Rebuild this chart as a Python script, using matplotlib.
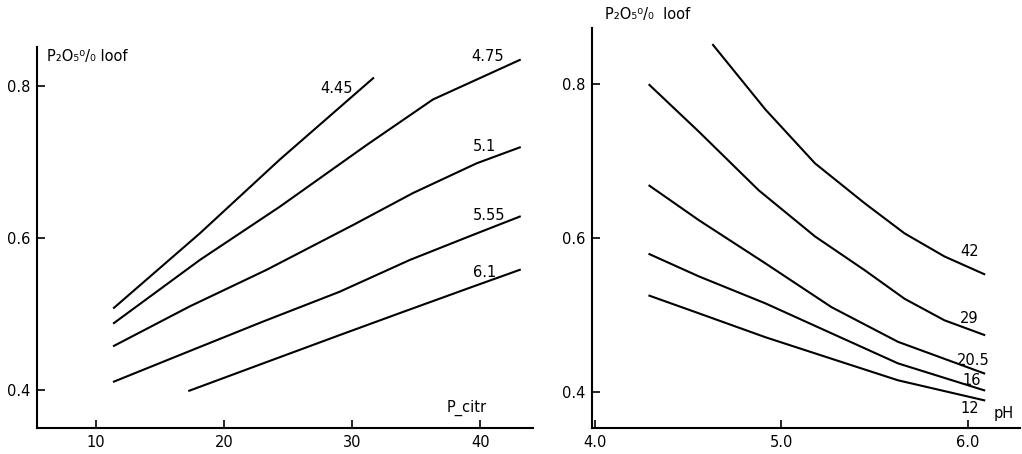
import matplotlib
matplotlib.use("Agg")
import matplotlib.pyplot as plt

# left panel: P2O5 in leaf vs citrate-soluble P, one curve per pH
pcitr_445 = [11.43, 18.13, 24.36, 31.64]
leaf_445 = [0.508, 0.606, 0.703, 0.810]
pcitr_475 = [11.43, 18.13, 24.36, 31.12, 36.3, 43.07]
leaf_475 = [0.488, 0.571, 0.641, 0.722, 0.782, 0.834]
pcitr_51 = [11.43, 17.35, 23.33, 30.08, 34.75, 39.7, 43.07]
leaf_51 = [0.458, 0.510, 0.558, 0.617, 0.659, 0.698, 0.719]
pcitr_555 = [11.43, 17.6, 23.06, 29.0, 34.5, 39.43, 43.07]
leaf_555 = [0.411, 0.453, 0.490, 0.529, 0.571, 0.604, 0.628]
pcitr_61 = [17.3, 23.06, 29.0, 33.7, 39.43, 43.07]
leaf_61 = [0.399, 0.435, 0.472, 0.501, 0.536, 0.558]
ph_names = ["4.45", "4.75", "5.1", "5.55", "6.1"]
ph_label_pos = [(28.8, 0.796), (40.6, 0.838), (40.35, 0.720), (40.7, 0.630), (40.35, 0.555)]

# right panel: P2O5 in leaf vs pH, one curve per P-citr level
ph_42 = [4.634, 4.915, 5.181, 5.448, 5.661, 5.875, 6.088]
leaf_42 = [0.851, 0.767, 0.697, 0.645, 0.606, 0.576, 0.553]
ph_29 = [4.293, 4.559, 4.879, 5.181, 5.448, 5.661, 5.875, 6.088]
leaf_29 = [0.799, 0.738, 0.662, 0.602, 0.558, 0.521, 0.493, 0.474]
ph_205 = [4.293, 4.559, 4.915, 5.27, 5.626, 6.088]
leaf_205 = [0.668, 0.623, 0.567, 0.510, 0.465, 0.424]
ph_16 = [4.293, 4.559, 4.915, 5.27, 5.626, 6.088]
leaf_16 = [0.579, 0.550, 0.515, 0.476, 0.437, 0.402]
ph_12 = [4.293, 4.559, 4.915, 5.27, 5.626, 6.088]
leaf_12 = [0.525, 0.502, 0.471, 0.443, 0.415, 0.389]
pc_names = ["42", "29", "20.5", "16", "12"]
pc_label_pos = [(6.008, 0.582), (6.008, 0.495), (6.03, 0.441), (6.02, 0.415), (6.008, 0.378)]

plt.rcParams['font.family'] = ['DejaVu Sans']
fig = plt.figure(figsize=(10.22, 4.54), dpi=100)

ax1 = fig.add_axes([37 / 1022, 1 - 428 / 454, (533 - 37) / 1022, (428 - 47) / 454])
ax2 = fig.add_axes([592 / 1022, 1 - 428 / 454, (1020 - 592) / 1022, (428 - 28) / 454])

lw = 1.5
fs = 10.5
for xs, ys in [(pcitr_445, leaf_445), (pcitr_475, leaf_475), (pcitr_51, leaf_51),
               (pcitr_555, leaf_555), (pcitr_61, leaf_61)]:
    ax1.plot(xs, ys, color='black', lw=lw)
for name, (x, y) in zip(ph_names, ph_label_pos):
    ax1.text(x, y, name, fontsize=fs, ha='center', va='center')

for xs, ys in [(ph_42, leaf_42), (ph_29, leaf_29), (ph_205, leaf_205),
               (ph_16, leaf_16), (ph_12, leaf_12)]:
    ax2.plot(xs, ys, color='black', lw=lw)
for name, (x, y) in zip(pc_names, pc_label_pos):
    ax2.text(x, y, name, fontsize=fs, ha='center', va='center')

ax1.set_xlim(5.43, 44.1)
ax1.set_ylim(0.35, 0.851)
ax1.set_xticks([10, 20, 30, 40])
ax1.set_yticks([0.4, 0.6, 0.8])
ax1.set_yticklabels(["0.4", "0.6", "0.8"])
ax1.text(38.9, 0.376, "P_citr", fontsize=fs, ha='center', va='center')
ax1.text(0.02, 0.975, "P₂O₅⁰/₀ loof", transform=ax1.transAxes,
         fontsize=10.5, ha='left', va='center')

ax2.set_xlim(3.985, 6.28)
ax2.set_ylim(0.353, 0.873)
ax2.set_xticks([4.0, 5.0, 6.0])
ax2.set_xticklabels(["4.0", "5.0", "6.0"])
ax2.set_yticks([0.4, 0.6, 0.8])
ax2.set_yticklabels(["0.4", "0.6", "0.8"])
ax2.text(6.195, 0.372, "pH", fontsize=fs, ha='center', va='center')
ax2.text(0.03, 1.035, "P₂O₅⁰/₀  loof", transform=ax2.transAxes,
         fontsize=10.5, ha='left', va='center', clip_on=False)

for ax in (ax1, ax2):
    ax.spines['top'].set_visible(False)
    ax.spines['right'].set_visible(False)
    ax.spines['left'].set_linewidth(1.5)
    ax.spines['bottom'].set_linewidth(1.5)
    ax.tick_params(direction='in', length=6, width=1.2, labelsize=fs, pad=5)

fig.savefig("out.png", dpi=100)
